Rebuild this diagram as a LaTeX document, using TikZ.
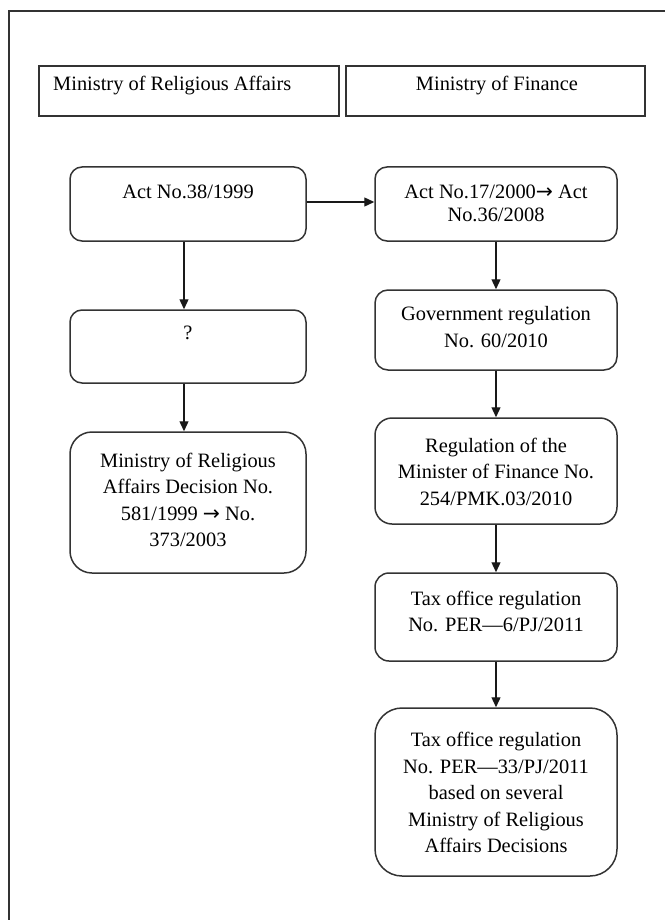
\documentclass[tikz,border=0pt]{standalone}
\usepackage{fontspec}
\setmainfont{Liberation Serif}
\newfontfamily\arrowfont{DejaVu Sans}
\usetikzlibrary{arrows.meta}
\newcommand{\ar}{{\arrowfont →}}
\begin{document}
\begin{tikzpicture}[x=1pt,y=-1pt,
  frame/.style={line width=1.6pt, draw=black!80},
  hbox/.style={draw=black!80, line width=1.5pt, rectangle, inner sep=0pt},
  rbox/.style={draw=black!80, line width=1.5pt, rectangle, inner sep=0pt},
  lbl/.style={align=center, font=\fontsize{20.4}{26.5}\selectfont, inner sep=0pt, text=black},
  arr/.style={line width=1.3pt, draw=black!90, -{Triangle[length=10pt,width=9pt]}}]
\useasboundingbox (0,0) rectangle (665,920);

% outer frame (top and left edges)
\draw[frame] (9,920) -- (9,11) -- (665,11);

% column headers
\node[hbox, minimum width=300pt, minimum height=50pt] (hL) at (189,91) {};
\node[hbox, minimum width=299pt, minimum height=50pt] (hR) at (495.5,91) {};
\node[lbl, anchor=west] (thL) at (53,86) {Ministry of Religious Affairs};
\node[lbl] (thR) at (497,86) {Ministry of Finance};

% left column boxes
\node[rbox, minimum width=236pt, minimum height=74pt, rounded corners=12pt] (a1) at (188,204) {};
\node[rbox, minimum width=236pt, minimum height=73pt, rounded corners=12pt] (q) at (188,346.5) {};
\node[rbox, minimum width=236pt, minimum height=141pt, rounded corners=22pt] (m) at (188,502.5) {};

% right column boxes
\node[rbox, minimum width=242pt, minimum height=74pt, rounded corners=12pt] (b1) at (496,204) {};
\node[rbox, minimum width=242pt, minimum height=80pt, rounded corners=13pt] (b2) at (496,330) {};
\node[rbox, minimum width=242pt, minimum height=106pt, rounded corners=17pt] (b3) at (496,471) {};
\node[rbox, minimum width=242pt, minimum height=88pt, rounded corners=14pt] (b4) at (496,617) {};
\node[rbox, minimum width=242pt, minimum height=168pt, rounded corners=27pt] (b5) at (496,792) {};

% box texts
\node[lbl] (ta1) at (188,192) {Act No.38/1999};
\node[lbl] (tq) at (188,333) {?};
\node[lbl] (tm) at (188,500) {Ministry of Religious\\Affairs Decision No.\\581/1999 \ar{} No.\\373/2003};
\node[lbl, font=\fontsize{20.4}{23.5}\selectfont] (tb1) at (496,203.5) {Act No.17/2000\ar{} Act\\No.36/2008};
\node[lbl] (tb2) at (496,327) {Government regulation\\No. 60/2010};
\node[lbl] (tb3) at (496,471.5) {Regulation of the\\Minister of Finance No.\\254/PMK.03/2010};
\node[lbl] (tb4) at (496,611.5) {Tax office regulation\\No. PER—6/PJ/2011};
\node[lbl] (tb5) at (496,792.5) {Tax office regulation\\No. PER—33/PJ/2011\\based on several\\Ministry of Religious\\Affairs Decisions};

% connectors
\draw[arr] ([yshift=2pt]a1.east) -- ([yshift=2pt]b1.west);
\draw[arr] ([xshift=-4pt]a1.south) -- ([xshift=-4pt]q.north);
\draw[arr] ([xshift=-4pt]q.south) -- ([xshift=-4pt]m.north);
\draw[arr] (b1.south) -- (b2.north);
\draw[arr] (b2.south) -- (b3.north);
\draw[arr] (b3.south) -- (b4.north);
\draw[arr] (b4.south) -- (b5.north);
\end{tikzpicture}
\end{document}
